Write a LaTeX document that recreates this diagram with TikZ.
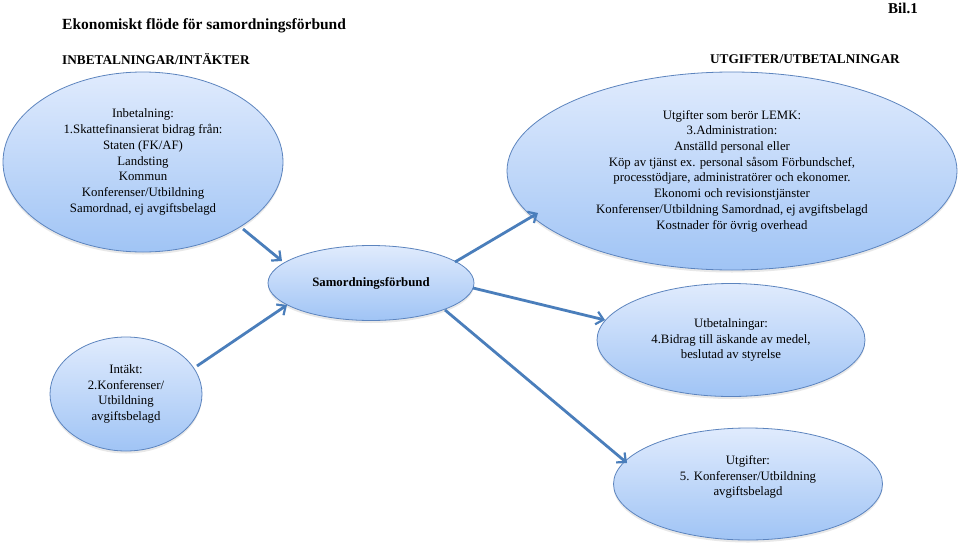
\documentclass[tikz,border=0pt]{standalone}
\usepackage{fontspec}
\setmainfont{Liberation Serif}
\usetikzlibrary{shapes.geometric,arrows.meta,calc,shadows}
\definecolor{lineblue}{RGB}{74,126,187}
\definecolor{edgeblue}{RGB}{92,132,190}
\definecolor{topfill}{RGB}{224,235,253}
\definecolor{botfill}{RGB}{160,196,245}
\tikzset{
  bubble/.style={ellipse, draw=edgeblue, line width=0.8pt, top color=topfill, bottom color=botfill,
    inner sep=0pt, align=center, font=\fontsize{12.8}{15.7}\selectfont,
    drop shadow={opacity=0.18, shadow xshift=0pt, shadow yshift=-2.5pt}},
  flow/.style={draw=lineblue, line width=2.8pt, -{Straight Barb[length=7pt,width=13pt,line width=2.2pt]}},
  heading/.style={anchor=west, inner sep=0pt, font=\bfseries\fontsize{13.3}{15}\selectfont}
}
\begin{document}
\begin{tikzpicture}[x=1pt,y=-1pt]
\path[use as bounding box] (0,0) rectangle (960,546);
\fill[white] (0,0) rectangle (960,546);

\node[anchor=west, inner sep=0pt, font=\bfseries\fontsize{15.5}{18}\selectfont] (title) at (62,26) {Ekonomiskt flöde för samordningsförbund};
\node[anchor=east, inner sep=0pt, font=\bfseries\fontsize{15}{17}\selectfont] (bil) at (918,8) {Bil.1};
\node[heading] (inb) at (62,59) {INBETALNINGAR/INTÄKTER};
\node[heading, anchor=east] (utg) at (900,59) {UTGIFTER/UTBETALNINGAR};

\node[bubble, minimum width=280pt, minimum height=180pt] (e1) at (143,162)
 {Inbetalning:\\1.Skattefinansierat bidrag från:\\Staten (FK/AF)\\Landsting\\Kommun\\Konferenser/Utbildning\\Samordnad, ej avgiftsbelagd};

\node[bubble, minimum width=450pt, minimum height=198pt] (e2) at (732,171)
 {Utgifter som berör LEMK:\\3.Administration:\\Anställd personal eller\\Köp av tjänst ex. personal såsom Förbundschef,\\processtödjare, administratörer och ekonomer.\\Ekonomi och revisionstjänster\\Konferenser/Utbildning Samordnad, ej avgiftsbelagd\\Kostnader för övrig overhead};

\node[bubble, minimum width=206pt, minimum height=75pt, font=\bfseries\fontsize{12.8}{15}\selectfont] (s) at (371,283) {Samordningsförbund};

\node[bubble, minimum width=152pt, minimum height=114pt] (i) at (126,394)
 {Intäkt:\\2.Konferenser/\\Utbildning\\avgiftsbelagd};

\node[bubble, minimum width=268pt, minimum height=113pt] (u4) at (731,340)
 {Utbetalningar:\\4.Bidrag till äskande av medel,\\beslutad av styrelse};

\node[bubble, minimum width=269pt, minimum height=112pt, text depth=17pt] (u5) at (748,484)
 {Utgifter:\\5. Konferenser/Utbildning\\avgiftsbelagd};

\draw[flow] ($(e1)+(100,67)$) -- ($(s)+(-89,-22)$);
\draw[flow] ($(i)+(71,-28)$) -- ($(s)+(-84,22)$);
\draw[flow] ($(s)+(84,-21)$) -- ($(e2)+(-194,42)$);
\draw[flow] ($(s)+(102,5)$) -- ($(u4)+(-126,-20)$);
\draw[flow] ($(s)+(74,27)$) -- ($(u5)+(-121,-21)$);
\end{tikzpicture}
\end{document}
